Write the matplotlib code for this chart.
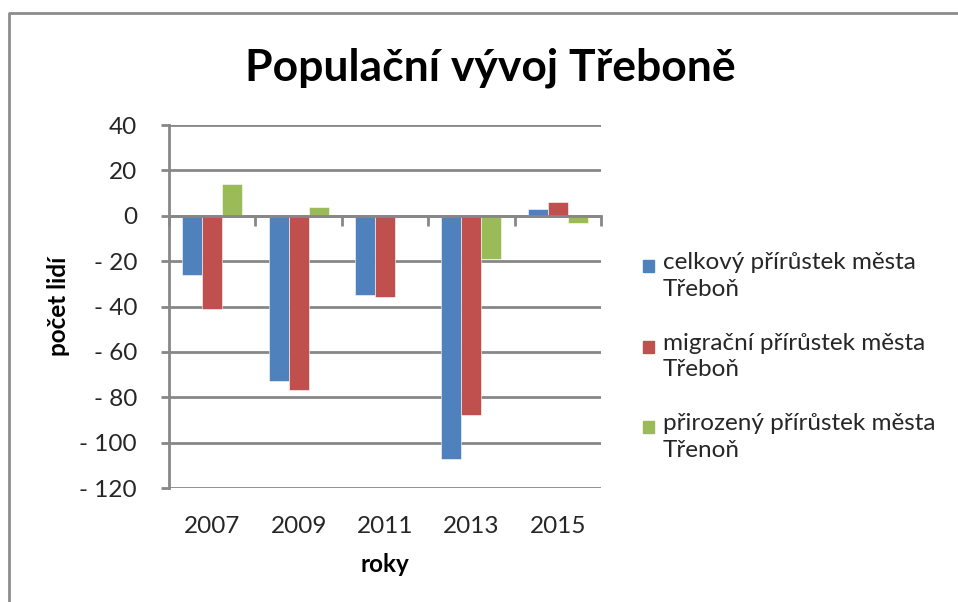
import numpy as np
import matplotlib
matplotlib.use("Agg")
import matplotlib.pyplot as plt
from matplotlib.patches import Rectangle
from matplotlib.ticker import FuncFormatter

plt.rcParams['font.family'] = ['Lato', 'DejaVu Sans']

years = ["2007", "2009", "2011", "2013", "2015"]
celkovy = [-26, -73, -35, -107, 3]
migracni = [-41, -77, -36, -88, 6]
prirozeny = [14, 4, 0, -19, -3]
labels = ["celkový přírůstek města\nTřeboň",
          "migrační přírůstek města\nTřeboň",
          "přirozený přírůstek města\nTřenoň"]
colors = ["#4F81BD", "#C0504D", "#9BBB59"]
yticks = [40, 20, 0, -20, -40, -60, -80, -100, -120]

grid_col = "#878787"
txt_col = "#262626"
fs = 17.5

fig = plt.figure(figsize=(9.58, 6.02), dpi=100)
ax = fig.add_axes([169/958, 1-488/602, (601-169)/958, (488-125)/602])

x = np.arange(len(years))
w = 0.232
series = [celkovy, migracni, prirozeny]
for i, (vals, col) in enumerate(zip(series, colors)):
    ax.bar(x + (i-1)*w, vals, w, color=col, edgecolor="white", linewidth=0.4, zorder=3)

ax.set_xlim(-0.5, len(years)-0.5)
ax.set_ylim(-120, 40)
ax.set_yticks(yticks)
ax.yaxis.set_major_formatter(FuncFormatter(lambda v, p: "- %d" % -v if v < 0 else "%d" % v))
for v in yticks:
    ax.axhline(v, color=grid_col, lw=2, zorder=1)

ax.set_xticks(x)
ax.set_xticklabels(years)
ax.set_xticks(np.arange(len(years)+1) - 0.5, minor=True)
ax.tick_params(axis='x', which='major', length=0, pad=20, labelsize=fs, labelcolor=txt_col)
ax.tick_params(axis='x', which='minor', bottom=False, top=True, direction='in',
               length=7, width=2, color=grid_col)
ax.tick_params(axis='y', length=6, width=2, color=grid_col, pad=17,
               labelsize=fs, labelcolor=txt_col)

for s in ["right", "bottom"]:
    ax.spines[s].set_visible(False)
ax.spines['left'].set_color(grid_col)
ax.spines['left'].set_linewidth(2)
ax.spines['top'].set_position(('data', 0))
ax.spines['top'].set_color(grid_col)
ax.spines['top'].set_linewidth(2)
ax.spines['top'].set_zorder(4)

ax.set_xlabel("roky", fontsize=fs, fontweight='bold', labelpad=12, color="black")
ax.set_ylabel("počet lidí", fontsize=fs, fontweight='bold', labelpad=7, color="black")

fig.text(490/958, 1-80/602, "Populační vývoj Třeboně", ha='center', va='baseline',
         fontsize=32, fontweight='bold', color="black")

# legend
for i, (lab, col) in enumerate(zip(labels, colors)):
    yc = 266 + i*80.5
    fig.add_artist(Rectangle((643/958, 1-(yc+6)/602), 11/958, 12/602,
                             transform=fig.transFigure, color=col))
    fig.text(663/958, 1-(yc-14)/602, lab, ha='left', va='top', fontsize=fs,
             color=txt_col, linespacing=1.35)

# chart border
fig.add_artist(plt.Line2D([9/958, 9/958, 1], [0, 1-12.5/602, 1-12.5/602],
                          transform=fig.transFigure, color="#8c8c8c", lw=2))

fig.savefig("out.png", dpi=100, facecolor="white")
